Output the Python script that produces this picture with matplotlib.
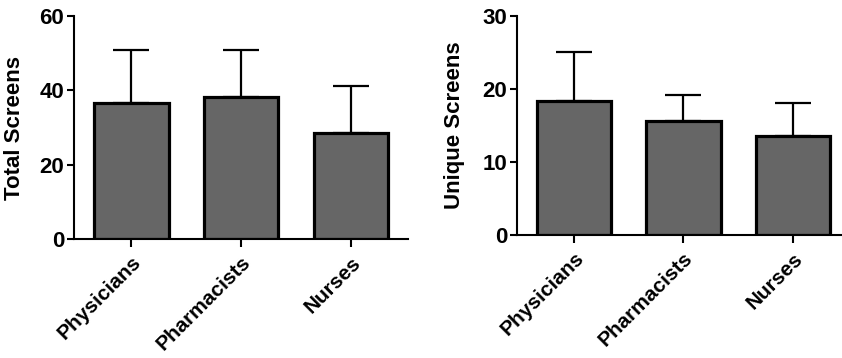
import matplotlib.pyplot as plt

groups = ["Physicians", "Pharmacists", "Nurses"]
total_mean = [36.6, 38.2, 28.5]
total_sd = [14.2, 12.6, 12.6]
unique_mean = [18.4, 15.6, 13.6]
unique_sd = [6.7, 3.6, 4.5]

plt.rcParams['font.family'] = ['Liberation Sans', 'DejaVu Sans']
plt.rcParams['font.weight'] = 'bold'

fig = plt.figure(figsize=(8.42, 3.58), dpi=100)
ax1 = fig.add_axes([0.0879, 0.3324, 0.3967, 0.6229])
ax2 = fig.add_axes([0.614, 0.3436, 0.386, 0.6117])


def panel(ax, means, sds, ylim, yticks, ylabel, xright, labx):
    x = range(len(groups))
    ax.errorbar(x, means, yerr=[[0] * len(sds), sds], fmt='none', ecolor='black',
                elinewidth=1.6, capsize=13, capthick=1.6, zorder=1)
    ax.bar(x, means, width=0.68, color='#666666', edgecolor='black', linewidth=2.3, zorder=2)
    ax.set_xlim(-0.52, xright)
    ax.set_ylim(*ylim)
    ax.set_yticks(yticks)
    ax.set_xticks(list(x))
    ax.set_xticklabels(groups, rotation=45, ha='right', rotation_mode='anchor',
                       fontsize=15, fontweight='bold')
    for lab in ax.get_yticklabels():
        lab.set_fontsize(16)
        lab.set_fontweight('bold')
    ax.set_ylabel(ylabel, fontsize=16, fontweight='bold')
    ax.yaxis.set_label_coords(labx, 0.5)
    for s in ['top', 'right']:
        ax.spines[s].set_visible(False)
    for s in ['left', 'bottom']:
        ax.spines[s].set_linewidth(1.5)
    ax.tick_params(axis='y', length=5, width=1.5, pad=2)
    ax.tick_params(axis='x', length=6, width=1.5, pad=4)


panel(ax1, total_mean, total_sd, (0, 60), [0, 20, 40, 60], "Total Screens", 2.52, -0.147)
panel(ax2, unique_mean, unique_sd, (0, 30), [0, 10, 20, 30], "Unique Screens", 2.45, -0.16)

fig.savefig("out.png", dpi=100)
